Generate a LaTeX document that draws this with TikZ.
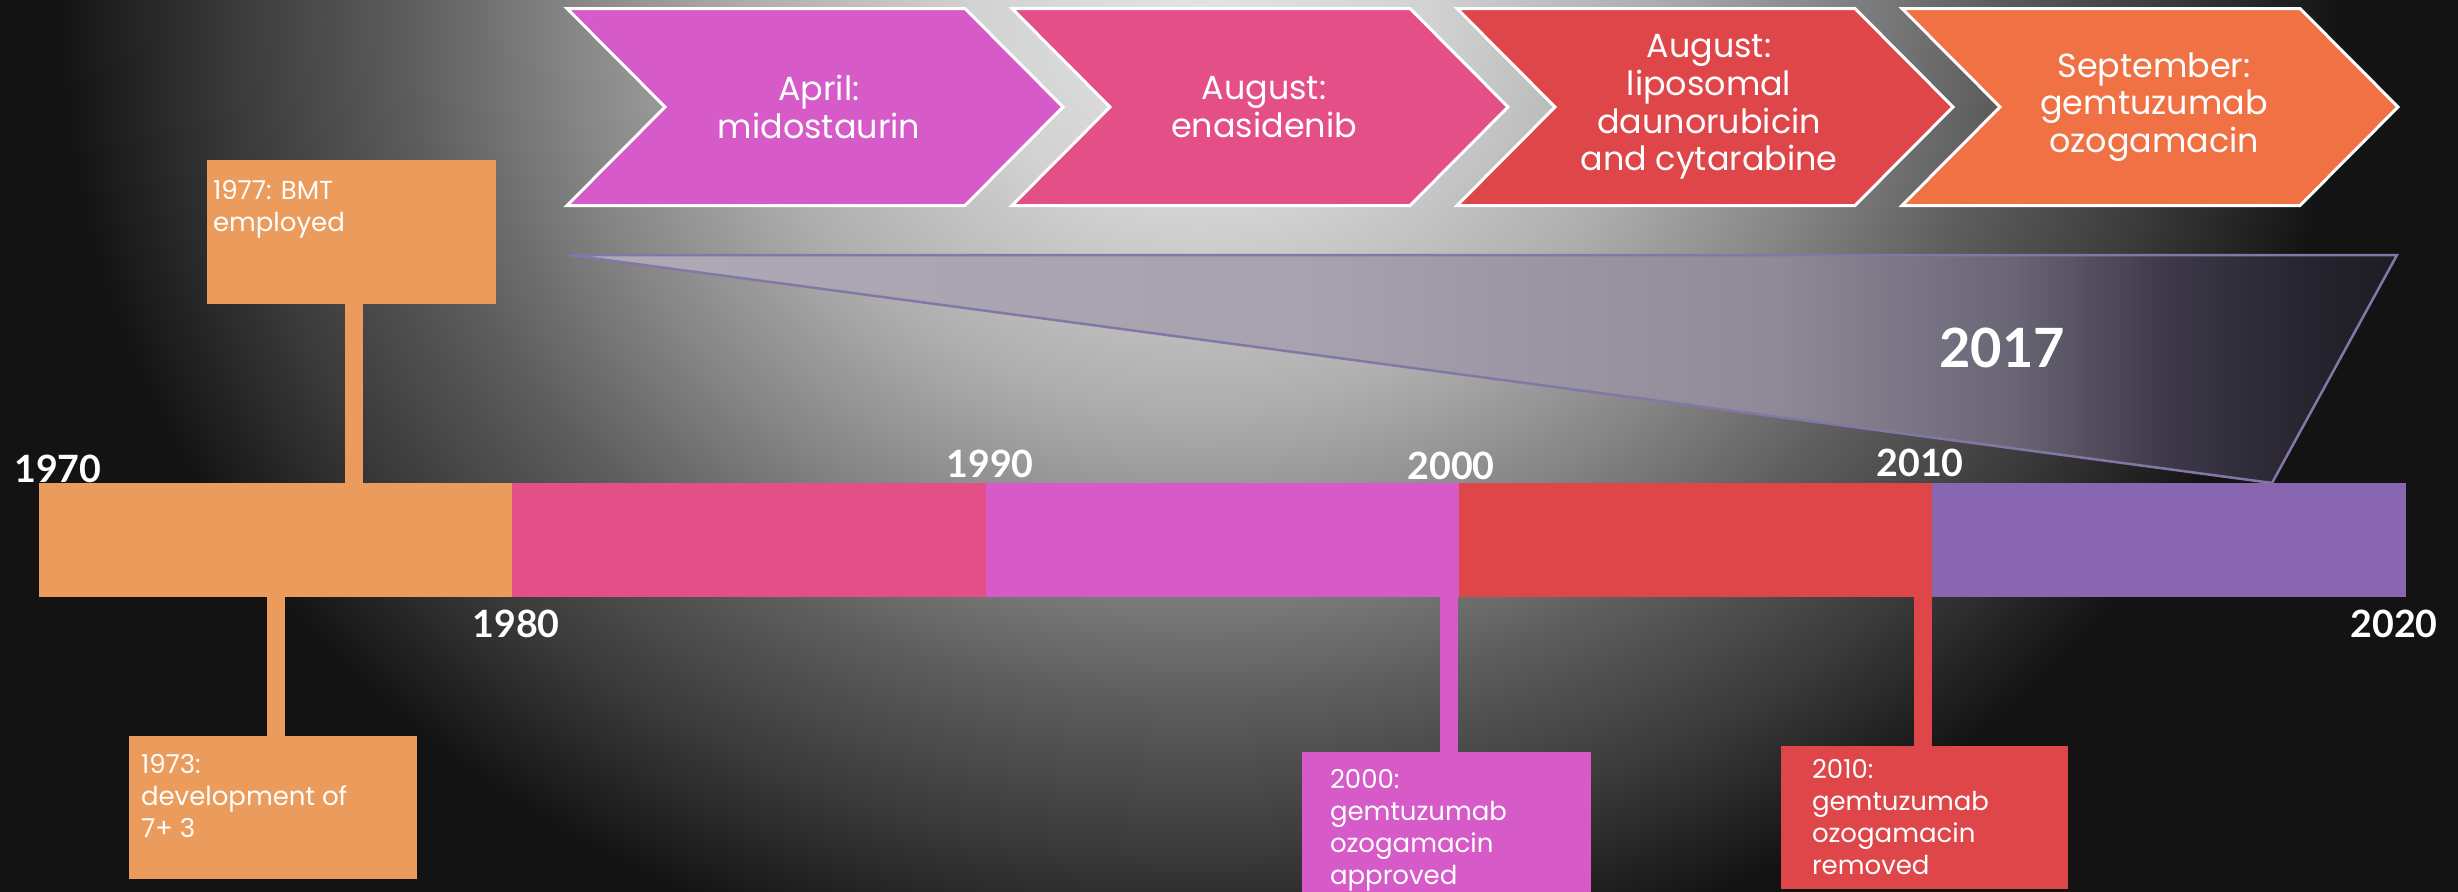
\documentclass[tikz,border=0pt]{standalone}
\usepackage{fontspec}
\setmainfont{Poppins}
\newfontfamily\yearfont{Lato}
\usetikzlibrary{calc}

\definecolor{cOrange}{HTML}{EB9C5C}
\definecolor{cPink}{HTML}{E44F87}
\definecolor{cMagenta}{HTML}{D65BC9}
\definecolor{cRed}{HTML}{DF4649}
\definecolor{cPurple}{HTML}{8866B0}
\definecolor{cCoral}{HTML}{F07143}
\definecolor{bgA}{HTML}{E4E4E4}
\definecolor{bgB}{HTML}{D2D2D2}
\definecolor{bgC}{HTML}{ADADAD}
\definecolor{bgD}{HTML}{868686}
\definecolor{bgE}{HTML}{5C5C5C}
\definecolor{bgF}{HTML}{3A3A3A}
\definecolor{bgG}{HTML}{202020}
\definecolor{bgH}{HTML}{131313}
\definecolor{wA}{HTML}{ADA9B5}
\definecolor{wB}{HTML}{A6A2AE}
\definecolor{wC}{HTML}{8E8A98}
\definecolor{wD}{HTML}{6A6575}
\definecolor{wE}{HTML}{3C3848}
\definecolor{wF}{HTML}{24222C}
\definecolor{wG}{HTML}{1E1C24}
\definecolor{wEdge}{HTML}{8676A8}

\pgfdeclareradialshading{bgshade}{\pgfpoint{0bp}{0bp}}{color(0bp)=(bgA); color(5bp)=(bgB); color(10bp)=(bgC); color(13.75bp)=(bgD); color(17.5bp)=(bgE); color(21.25bp)=(bgF); color(23.75bp)=(bgG); color(25bp)=(bgH); color(50bp)=(bgH)}
\pgfdeclarehorizontalshading{wedgeshade}{100bp}{color(0bp)=(wA); color(25bp)=(wA); color(45bp)=(wB); color(58bp)=(wC); color(64.5bp)=(wD); color(68.8bp)=(wE); color(73bp)=(wF); color(75bp)=(wG); color(100bp)=(wG)}

\tikzset{
  chev/.style={draw=white, line width=0.03cm, line join=miter},
  chevtext/.style={text=white, align=center, inner sep=0pt, font=\fontsize{9.5}{10.7}\selectfont},
  seg/.style={minimum width=4.733cm, minimum height=1.14cm, inner sep=0pt, outer sep=0pt, anchor=north west},
  callout/.style={anchor=north west, text=white, outer sep=0pt, font=\fontsize{7.4}{9.1}\selectfont},
  stem/.style={line width=0.18cm, line cap=butt},
  year/.style={text=white, anchor=base, inner sep=0pt, font=\yearfont\bfseries\fontsize{10.7}{12}\selectfont},
  yearbig/.style={text=white, anchor=base, inner sep=0pt, font=\yearfont\bfseries\fontsize{15.4}{18}\selectfont},
  wedgeedge/.style={draw=wEdge, line width=0.025cm, line join=miter}
}

\begin{document}
\begin{tikzpicture}
\useasboundingbox (0,0) rectangle (24.58,-8.92);
\clip (0,0) rectangle (24.58,-8.92);
\fill[bgH] (0,0) rectangle (24.58,-8.92);
\shade[shading=bgshade] (12.0,-0.2) ellipse [x radius=11.4, y radius=9.8];

% 2017 wedge
\coordinate (wA) at (5.69,-2.55);
\coordinate (wB) at (23.97,-2.55);
\coordinate (wC) at (22.72,-4.83);
\shade[shading=wedgeshade] (wA) -- (wB) -- (wC) -- cycle;
\draw[wedgeedge] (wA) -- (wB) -- (wC) -- cycle;
\node[yearbig] (y2017) at (20.02,-3.67) {2017};

% chevrons
\path[chev, fill=cMagenta] (5.67,-0.085) -- ++(3.98,0) -- ++(0.98,-0.985) -- ++(-0.98,-0.985) -- ++(-3.98,0) -- ++(0.98,0.985) -- cycle;
\path[chev, fill=cPink] (10.12,-0.085) -- ++(3.98,0) -- ++(0.98,-0.985) -- ++(-0.98,-0.985) -- ++(-3.98,0) -- ++(0.98,0.985) -- cycle;
\path[chev, fill=cRed] (14.57,-0.085) -- ++(3.98,0) -- ++(0.98,-0.985) -- ++(-0.98,-0.985) -- ++(-3.98,0) -- ++(0.98,0.985) -- cycle;
\path[chev, fill=cCoral] (19.02,-0.085) -- ++(3.98,0) -- ++(0.98,-0.985) -- ++(-0.98,-0.985) -- ++(-3.98,0) -- ++(0.98,0.985) -- cycle;
\node[chevtext] (c1) at (8.19,-1.07) {April:\\midostaurin};
\node[chevtext] (c2) at (12.64,-1.07) {August:\\enasidenib};
\node[chevtext] (c3) at (17.09,-1.07) {August:\\liposomal\\daunorubicin\\and cytarabine};
\node[chevtext] (c4) at (21.54,-1.07) {September:\\gemtuzumab\\ozogamacin};

% callout boxes
\node[callout, fill=cOrange, inner xsep=0.06cm, inner ysep=0.20cm] (b77) at (2.07,-1.60)
  {\parbox[t][1.04cm][t]{2.77cm}{\raggedright 1977: BMT\\employed}};
\node[callout, fill=cOrange, inner xsep=0.12cm, inner ysep=0.18cm] (b73) at (1.29,-7.36)
  {\parbox[t][1.07cm][t]{2.64cm}{\raggedright 1973:\\development of\\7+ 3}};
\node[callout, fill=cMagenta, inner xsep=0.28cm, inner ysep=0.17cm] (b00) at (13.02,-7.52)
  {\parbox[t][1.16cm][t]{2.33cm}{\raggedright 2000:\\gemtuzumab\\ozogamacin\\approved}};
\node[callout, fill=cRed, inner xsep=0.31cm, inner ysep=0.13cm] (b10) at (17.81,-7.46)
  {\parbox[t][1.17cm][t]{2.25cm}{\raggedright 2010:\\gemtuzumab\\ozogamacin\\removed}};

% timeline bar
\node[seg, fill=cOrange] (s1) at (0.39,-4.83) {};
\node[seg, fill=cPink] (s2) at (5.123,-4.83) {};
\node[seg, fill=cMagenta] (s3) at (9.856,-4.83) {};
\node[seg, fill=cRed] (s4) at (14.589,-4.83) {};
\node[seg, fill=cPurple] (s5) at (19.322,-4.83) {};

% stems
\coordinate (x77) at (3.54,0);
\coordinate (x73) at (2.76,0);
\coordinate (x00) at (14.49,0);
\coordinate (x10) at (19.23,0);
\draw[stem, cOrange] (b77.south -| x77) -- (s1.north -| x77);
\draw[stem, cOrange] (s1.south -| x73) -- (b73.north -| x73);
\draw[stem, cMagenta] (s3.south -| x00) -- (b00.north -| x00);
\draw[stem, cRed] (s4.south -| x10) -- (b10.north -| x10);

% years
\node[year] (y1970) at (0.58,-4.82) {1970};
\node[year] (y1990) at (9.90,-4.77) {1990};
\node[year] (y2000) at (14.51,-4.79) {2000};
\node[year] (y2010) at (19.20,-4.76) {2010};
\node[year] (y1980) at (5.16,-6.37) {1980};
\node[year] (y2020) at (23.94,-6.37) {2020};
\end{tikzpicture}
\end{document}
